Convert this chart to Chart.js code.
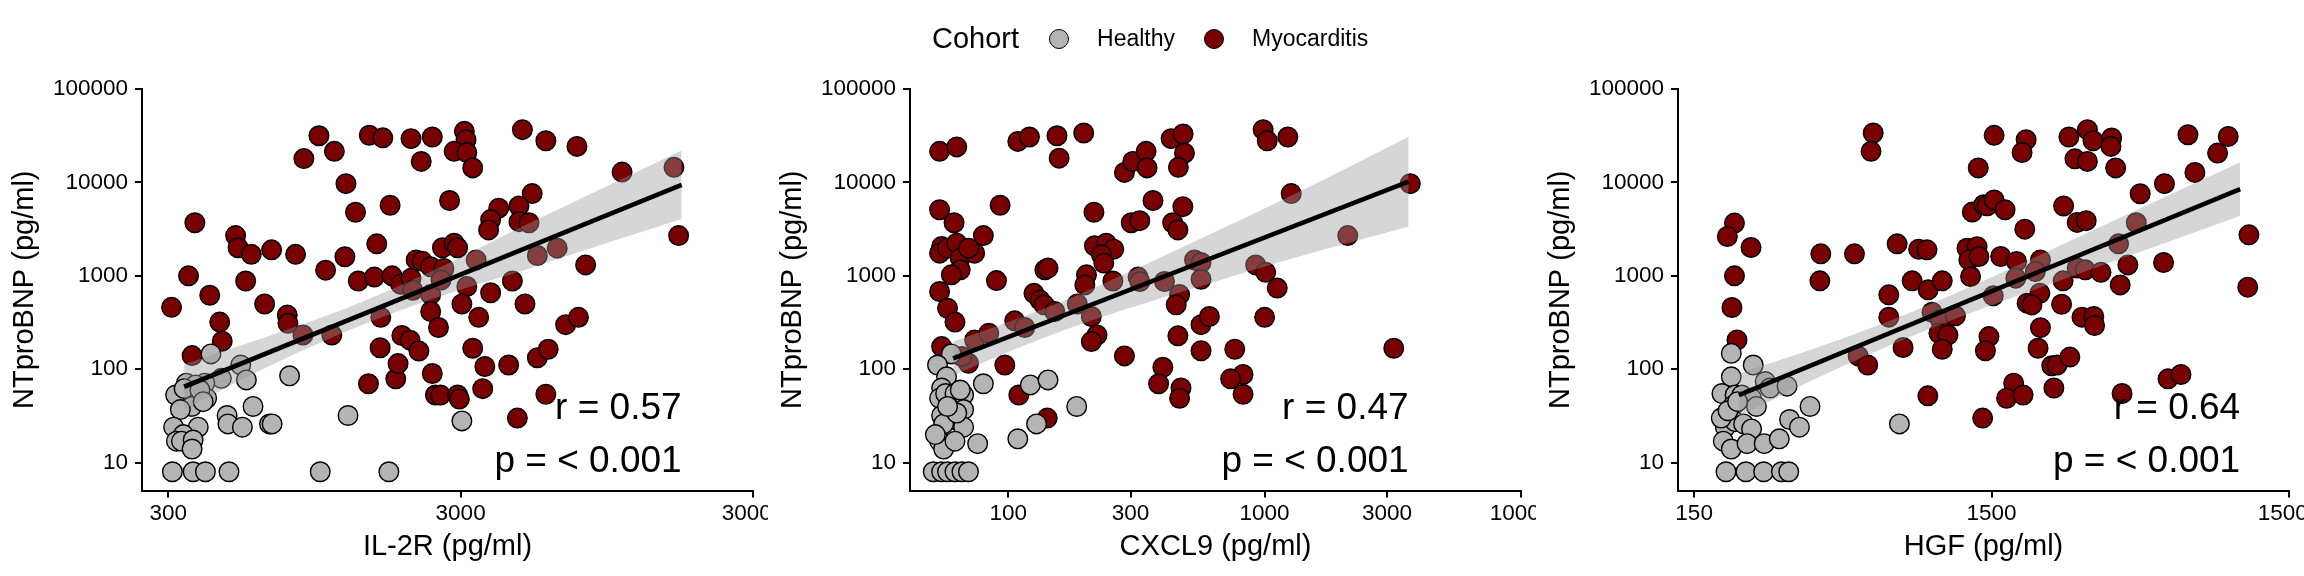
<!DOCTYPE html>
<html>
<head>
<meta charset="utf-8">
<style>
  html, body { margin: 0; padding: 0; background: #fff; }
  #wrap { position: relative; width: 2304px; height: 576px; overflow: hidden;
          font-family: "Liberation Sans", Arial, Helvetica, sans-serif; color: #000; }
  .panel { position: absolute; top: 0; width: 768px; height: 576px; overflow: hidden; }
  #legend { position: absolute; top: 18px; left: 932px; height: 41px;
            display: flex; align-items: center; white-space: nowrap; }
  #legend .title { font-size: 29px; }
  #legend .dot { width: 18px; height: 18px; border-radius: 50%; border: 1.4px solid #000; }
  #legend .lab { font-size: 23px; }
</style>
</head>
<body>
<div id="wrap">
  <div class="panel" style="left:0"><canvas id="c1"></canvas></div>
  <div class="panel" style="left:768px"><canvas id="c2"></canvas></div>
  <div class="panel" style="left:1536px"><canvas id="c3"></canvas></div>
  <div id="legend">
    <span class="title">Cohort</span>
    <span class="dot" style="margin-left:30px;background:#b4b4b4"></span>
    <span class="lab" style="margin-left:28px">Healthy</span>
    <span class="dot" style="margin-left:29px;background:#780000"></span>
    <span class="lab" style="margin-left:28px">Myocarditis</span>
  </div>
</div>

<script src="https://cdn.jsdelivr.net/npm/chart.js"></script>
<script>
    // ---- values ----
    const yTicks = [10, 100, 1000, 10000, 100000];

    // IL-2R panel
    const il2rTicks = [300, 3000, 30000];
    const il2rMyoX = [308, 352, 370, 416, 450, 459, 362, 510, 520, 577, 677, 818, 552, 641, 766, 770, 873, 983, 1110, 1216,
        1311, 1036, 1206, 1340, 1521, 1550, 1461, 1626, 1722, 1749, 1600, 1592, 1452, 1800, 1833, 1889, 2015, 2160, 1869, 2030,
        2060, 2113, 2220, 2370, 2370, 2370, 2520, 2400, 2460, 2560, 2030, 2400, 2200, 867, 1088, 3090, 3130, 2850, 3150, 3300,
        4880, 5870, 7500, 10700, 16100, 16700, 2750, 5270, 4050, 4750, 3800, 3740, 4750, 5140, 2600, 2850, 2930, 2630, 2570, 3390,
        5490, 6420, 8030, 3150, 3800, 4510, 4980, 3030, 3460, 6860, 7590, 3300, 3630, 4380, 5490, 5980, 3570, 2930, 2970, 5870, 4690];
    const il2rMyoY = [460, 1000, 3700, 620, 320, 200, 140, 2700, 2000, 1700, 1900, 1700, 880, 500, 380, 310, 18000, 31600, 21500, 9700,
        4800, 1150, 1600, 880, 970, 2200, 32000, 30000, 5700, 1000, 360, 170, 70, 79, 115, 230, 205, 157, 815, 940,
        700, 1480, 1430, 1250, 630, 415, 280, 90, 53, 53, 29400, 30600, 16800, 233, 233, 35200, 28600, 21500, 20900, 14300,
        36700, 27900, 24300, 12900, 14500, 2700, 6400, 7600, 5300, 5600, 4000, 3100, 3800, 3700, 2000, 2240, 2000, 1200, 900, 1480,
        1650, 1980, 1310, 770, 660, 880, 500, 500, 360, 300, 360, 168, 107, 111, 133, 164, 62, 53, 48, 54, 30];
    const il2rHealthyX = [420, 531, 555, 780, 456, 400, 346, 372, 318, 406, 361, 330, 585, 477, 480, 538, 666, 680, 313, 380,
        338, 320, 333, 365, 362, 1236, 3030, 310, 365, 402, 484, 993, 1705, 340, 385, 395];
    const il2rHealthyY = [146, 111, 77, 85, 80, 71, 71, 68, 53, 49, 40, 37, 40, 32, 26, 24, 26, 26, 24, 24,
        20, 17, 17, 17.5, 14, 32, 28, 8, 8, 8, 8, 8, 8, 62, 60, 45];
    const il2rFitX = [340, 17100];
    const il2rFitY = [65, 9440];
    const il2rBandX = [340, 600, 1200, 2400, 5000, 10000, 17100];
    const il2rBandLo = [37, 93, 249, 564, 1160, 2370, 4070];
    const il2rBandHi = [113, 205, 443, 1125, 3500, 9860, 21900];

    // CXCL9 panel
    const cxcl9Ticks = [100, 300, 1000, 3000, 10000];
    const cxcl9MyoX = [54, 63, 109, 121, 155, 158, 197, 284, 306, 345, 348, 432, 481, 487, 461, 54, 61.5, 93, 80, 55,
        54, 58, 63, 65, 74, 65, 60, 70, 90, 54, 58, 62, 55, 70, 66, 74, 84, 97, 110, 142,
        106, 116, 126, 133, 138, 139, 143, 152, 186, 202, 199, 211, 222, 211, 216, 217, 241, 258, 231, 236,
        256, 284, 302, 326, 367, 321, 326, 407, 401, 386, 472, 466, 480, 438, 459, 466, 452, 459, 565, 565,
        609, 533, 565, 565, 987, 1024, 1232, 1270, 3700, 2110, 923, 1010, 1120, 1000, 765, 3190, 824, 737, 824];
    const cxcl9MyoY = [21500, 24000, 27500, 30600, 31600, 18200, 33800, 12800, 16800, 21500, 14300, 29400, 33000, 20600, 14500, 5100, 3700, 5700, 2700, 2060,
        1750, 1980, 2240, 1550, 1750, 1160, 1025, 1980, 890, 680, 450, 320, 175, 116, 137, 206, 243, 111, 53, 30,
        330, 280, 650, 550, 490, 1160, 1210, 415, 500, 1025, 800, 367, 233, 198, 4800, 2100, 2240, 1930, 1680, 1370,
        880, 139, 3700, 3900, 6400, 970, 870, 870, 105, 70, 63, 49, 5500, 3700, 3100, 630, 490, 228, 158, 300,
        367, 1480, 1390, 920, 36700, 27900, 30600, 7600, 9700, 2700, 1310, 1090, 740, 360, 164, 168, 88, 79, 54];
    const cxcl9HealthyX = [60, 53, 57.5, 55, 54, 57, 62, 67, 80, 67, 61, 55, 56, 67, 63, 54, 56, 62, 76, 109,
        129, 122, 143, 185, 51, 55, 58, 62, 66, 70, 52, 58, 65];
    const cxcl9HealthyY = [146, 111, 83, 63, 49, 55, 55, 53, 70, 37, 29, 32, 26, 24, 34, 17, 14, 17, 16, 18,
        26, 68, 77, 40, 8, 8, 8, 8, 8, 8, 20, 40, 60];
    const cxcl9FitX = [61, 3645];
    const cxcl9FitY = [131, 10200];
    const cxcl9BandX = [61, 100, 180, 320, 600, 1200, 2200, 3645];
    const cxcl9BandLo = [86, 153, 286, 483, 820, 1462, 2317, 3380];
    const cxcl9BandHi = [198, 321, 598, 1213, 2716, 6680, 15300, 30800];

    // HGF panel
    const hgfTicks = [150, 1500, 15000];
    const hgfMyoX = [600, 590, 205, 194, 233, 205, 201, 209, 400, 397, 519, 722, 853, 910, 677, 677, 811, 918, 1024, 946,
        1010, 1134, 998, 1070, 1024, 756, 534, 575, 916, 1400, 1353, 1292, 1412, 1240, 1341, 1258, 1360, 1275,
        1530, 1960, 1900, 2730, 3150, 3290, 3800, 3780, 2860, 3150, 3920, 6860, 9370, 8630, 7240, 5720, 4740, 1450, 1530, 1665,
        2620, 2910, 3120, 1940, 4600, 4010, 1610, 1820, 2190, 1810, 2105, 2910, 3100, 3500, 4310, 5680, 4060, 2610, 11000, 10900,
        1520, 2180, 1975, 2050, 2580, 3020, 3310, 3330, 2190, 1470, 1430, 2150, 2390, 2490, 2750, 2430, 1780, 1685, 1915, 4120,
        5880, 6500];
    const hgfMyoY = [33800, 21500, 3670, 2640, 2010, 1000, 458, 206, 1720, 884, 1720, 2200, 1930, 1900, 626, 361, 884, 708, 884, 408,
        338, 373, 243, 233, 164, 171, 139, 111, 52, 30, 14300, 4810, 5770, 1980, 2050, 1480, 1610, 984,
        31900, 28600, 20900, 30600, 36700, 27900, 29900, 24300, 17900, 16800, 14300, 32400, 31100, 20600, 12800, 9700, 7560, 5620, 6500, 5100,
        5600, 3730, 3900, 3160, 3700, 2200, 1610, 1425, 1480, 944, 1110, 1210, 1160, 1090, 1310, 1390, 800, 884, 2750, 756,
        611, 652, 510, 489, 497, 361, 367, 294, 279, 224, 158, 168, 109, 111, 135, 63, 71, 49, 53, 55,
        79, 88];
    const hgfHealthyX = [200, 237, 200, 186, 206, 217, 234, 260, 270, 308, 243, 203, 368, 314, 339, 191, 206, 220, 234, 188,
        200, 226, 258, 290, 735, 192, 224, 257, 295, 312, 185, 195, 210];
    const hgfHealthyY = [148, 111, 83, 55, 53, 53, 49, 74, 63, 66, 40, 41, 40, 29, 24, 24, 27.5, 26, 23, 17,
        14, 16, 16, 18, 26, 8, 8, 8, 8, 8, 30, 36, 45];
    const hgfFitX = [212, 10280];
    const hgfFitY = [53, 8490];
    const hgfBandX = [212, 400, 800, 1500, 3000, 6000, 10280];
    const hgfBandLo = [31, 84, 223, 485, 1070, 2360, 4400];
    const hgfBandHi = [90, 176, 406, 967, 2687, 7464, 16400];

    const rLabels = ['r = 0.57', 'r = 0.47', 'r = 0.64'];
    const pLabel = 'p = < 0.001';

    // ---- drawing ----
    const FONT = '"Liberation Sans", Arial, Helvetica, sans-serif';
    Chart.defaults.font.family = FONT;
    Chart.defaults.color = '#000';

    const pts = (xs, ys) => xs.map((x, i) => ({ x: x, y: ys[i] }));

    const statsText = {
        id: 'statsText',
        afterDatasetsDraw(chart, args, opts) {
            const ctx = chart.ctx;
            const x = chart.scales.x.getPixelForValue(opts.xRight);
            const b = chart.chartArea.bottom;
            ctx.save();
            ctx.font = '37px ' + FONT;
            ctx.fillStyle = '#000';
            ctx.textAlign = 'right';
            ctx.textBaseline = 'alphabetic';
            ctx.fillText(opts.r, x, b - 71.5);
            ctx.fillText(opts.p, x, b - 18.5);
            ctx.restore();
        }
    };

    function axisCommon(ticks) {
        return {
            type: 'logarithmic',
            afterBuildTicks: s => { s.ticks = ticks.map(v => ({ value: v })); },
            ticks: { callback: v => String(v), font: { size: 22.5 }, color: '#000', autoSkip: false, maxRotation: 0 },
            grid: { drawOnChartArea: false, drawTicks: true, tickLength: 7, color: '#000', lineWidth: 2 },
            border: { display: true, color: '#000', width: 2 }
        };
    }

    function makePanel(id, xTitle, xTicks, xMin, xMax, hx, hy, mx, my, fx, fy, bx, lo, hi, rText) {
        const xs = axisCommon(xTicks);
        Object.assign(xs, { min: xMin, max: xMax, position: 'bottom',
            title: { display: true, text: xTitle, font: { size: 29 }, color: '#000', padding: { top: 0, bottom: 11.5 } },
            afterFit: s => { s.height = 85.5; s.paddingLeft = 0; s.paddingRight = 0; } });
        xs.ticks.padding = 3;
        const ys = axisCommon(yTicks);
        Object.assign(ys, { min: 5.04, max: 100000, position: 'left',
            title: { display: true, text: 'NTproBNP (pg/ml)', font: { size: 29 }, color: '#000', padding: { top: 8, bottom: 0 } },
            afterFit: s => { s.width = 142; s.paddingTop = 0; s.paddingBottom = 0; } });
        ys.ticks.padding = 7;

        new Chart(document.getElementById(id), {
            type: 'scatter',
            data: {
                datasets: [
                    { type: 'line', data: pts(fx, fy), borderColor: '#000', borderWidth: 4.6, pointRadius: 0, fill: false, order: 0 },
                    { type: 'line', data: pts(bx, hi), borderWidth: 0, pointRadius: 0, cubicInterpolationMode: 'monotone',
                      fill: '+1', backgroundColor: 'rgba(153,153,153,0.4)', order: 1 },
                    { type: 'line', data: pts(bx, lo), borderWidth: 0, pointRadius: 0, cubicInterpolationMode: 'monotone',
                      fill: false, order: 1 },
                    { label: 'Healthy', data: pts(hx, hy), backgroundColor: '#b4b4b4', borderColor: '#000',
                      borderWidth: 1.4, pointRadius: 9.8, order: 2 },
                    { label: 'Myocarditis', data: pts(mx, my), backgroundColor: '#780000', borderColor: '#000',
                      borderWidth: 1.4, pointRadius: 9.8, order: 3 }
                ]
            },
            options: {
                responsive: true,
                maintainAspectRatio: false,
                animation: false,
                events: [],
                layout: { padding: { top: 89, right: 15, left: 0, bottom: 0 } },
                scales: { x: xs, y: ys },
                plugins: {
                    legend: { display: false },
                    tooltip: { enabled: false },
                    statsText: { r: rText, p: pLabel, xRight: fx[1] }
                }
            },
            plugins: [statsText]
        });
    }

    makePanel('c1', 'IL-2R (pg/ml)', il2rTicks, 244, 30000, il2rHealthyX, il2rHealthyY, il2rMyoX, il2rMyoY,
        il2rFitX, il2rFitY, il2rBandX, il2rBandLo, il2rBandHi, rLabels[0]);
    makePanel('c2', 'CXCL9 (pg/ml)', cxcl9Ticks, 41.4, 10000, cxcl9HealthyX, cxcl9HealthyY, cxcl9MyoX, cxcl9MyoY,
        cxcl9FitX, cxcl9FitY, cxcl9BandX, cxcl9BandLo, cxcl9BandHi, rLabels[1]);
    makePanel('c3', 'HGF (pg/ml)', hgfTicks, 132.4, 15000, hgfHealthyX, hgfHealthyY, hgfMyoX, hgfMyoY,
        hgfFitX, hgfFitY, hgfBandX, hgfBandLo, hgfBandHi, rLabels[2]);
</script>
</body>
</html>
